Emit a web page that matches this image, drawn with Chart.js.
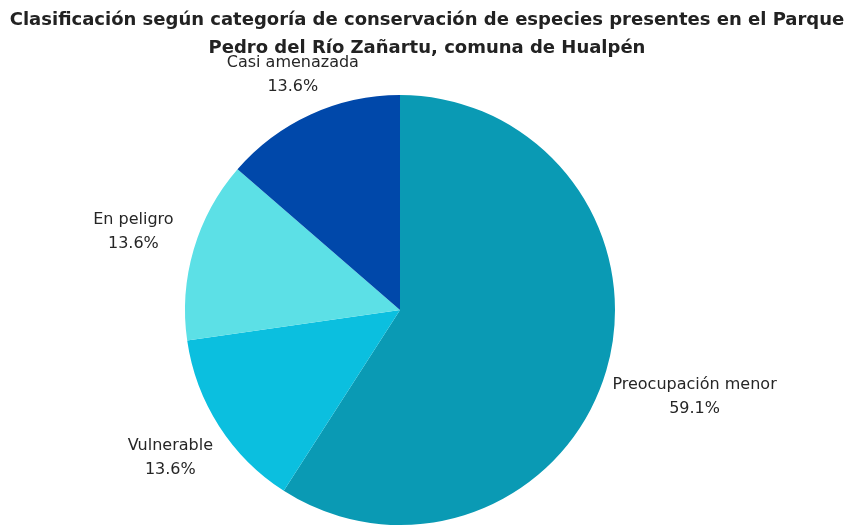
<!DOCTYPE html>
<html>

<head>
	<title>Conservación de especies</title>
	<style>
		body {
			margin: 0;
			background: #ffffff;
		}

		.chart_box {
			width: 854px;
			height: 527px;
			filter: blur(0.4px);
		}
	</style>
</head>

<body>
	<div class="chart_box">
		<canvas id="pie1"></canvas>
	</div>

	<script type="text/javascript" charset="utf-8" src="https://cdn.jsdelivr.net/npm/chart.js@4/dist/chart.umd.min.js"></script>
	<script>
		// número de especies por categoría
		const categorias = ['Preocupación menor', 'Vulnerable', 'En peligro', 'Casi amenazada'];
		const especies = [13, 3, 3, 3];
		const colores = ['#0a9ab4', '#0bbfdf', '#5ce0e6', '#0048aa'];
		const titulo = [
			'Clasificación según categoría de conservación de especies presentes en el Parque',
			'Pedro del Río Zañartu, comuna de Hualpén'
		];

		// título y etiquetas de cada porción, dibujados a mano
		const etiquetas = {
			id: 'etiquetas',
			afterDraw(chart) {
				let ctx = chart.ctx;
				ctx.save();
				ctx.fillStyle = '#222222';
				ctx.textAlign = 'center';
				ctx.textBaseline = 'middle';

				ctx.font = 'bold 18px "DejaVu Sans"';
				ctx.fillText(titulo[0], 427, 20);
				ctx.fillText(titulo[1], 427, 48);

				let total = especies.reduce((a, b) => a + b, 0);
				let arcs = chart.getDatasetMeta(0).data;
				ctx.font = '16px "DejaVu Sans"';
				ctx.fillStyle = '#262626';
				arcs.forEach((arc, i) => {
					let pct = (especies[i] / total * 100).toFixed(1) + '%';
					let mid = (arc.startAngle + arc.endAngle) / 2;
					let dx = Math.cos(mid);
					let dy = Math.sin(mid);
					let hw = Math.max(ctx.measureText(categorias[i]).width, ctx.measureText(pct).width) / 2;
					let hh = 20;
					let t = Math.min(hw / Math.max(Math.abs(dx), 0.001), hh / Math.max(Math.abs(dy), 0.001));
					let r = arc.outerRadius + 21 + t;
					let x = arc.x + dx * r;
					let y = arc.y + dy * r;
					ctx.fillText(categorias[i], x, y - 12);
					ctx.fillText(pct, x, y + 12);
				});
				ctx.restore();
			}
		};

		let ctx = document.getElementById('pie1').getContext('2d');
		let chart = new Chart(ctx, {
			type: 'pie',
			data: {
				labels: categorias,
				datasets: [
					{
						data: especies,
						backgroundColor: colores,
						borderWidth: 0
					}
				]
			},
			options: {
				responsive: true,
				maintainAspectRatio: false,
				animation: false,
				layout: {
					padding: { top: 95, bottom: 2, left: 0, right: 54 }
				},
				plugins: {
					legend: { display: false },
					tooltip: { enabled: false }
				}
			},
			plugins: [etiquetas]
		});
	</script>
</body>

</html>
